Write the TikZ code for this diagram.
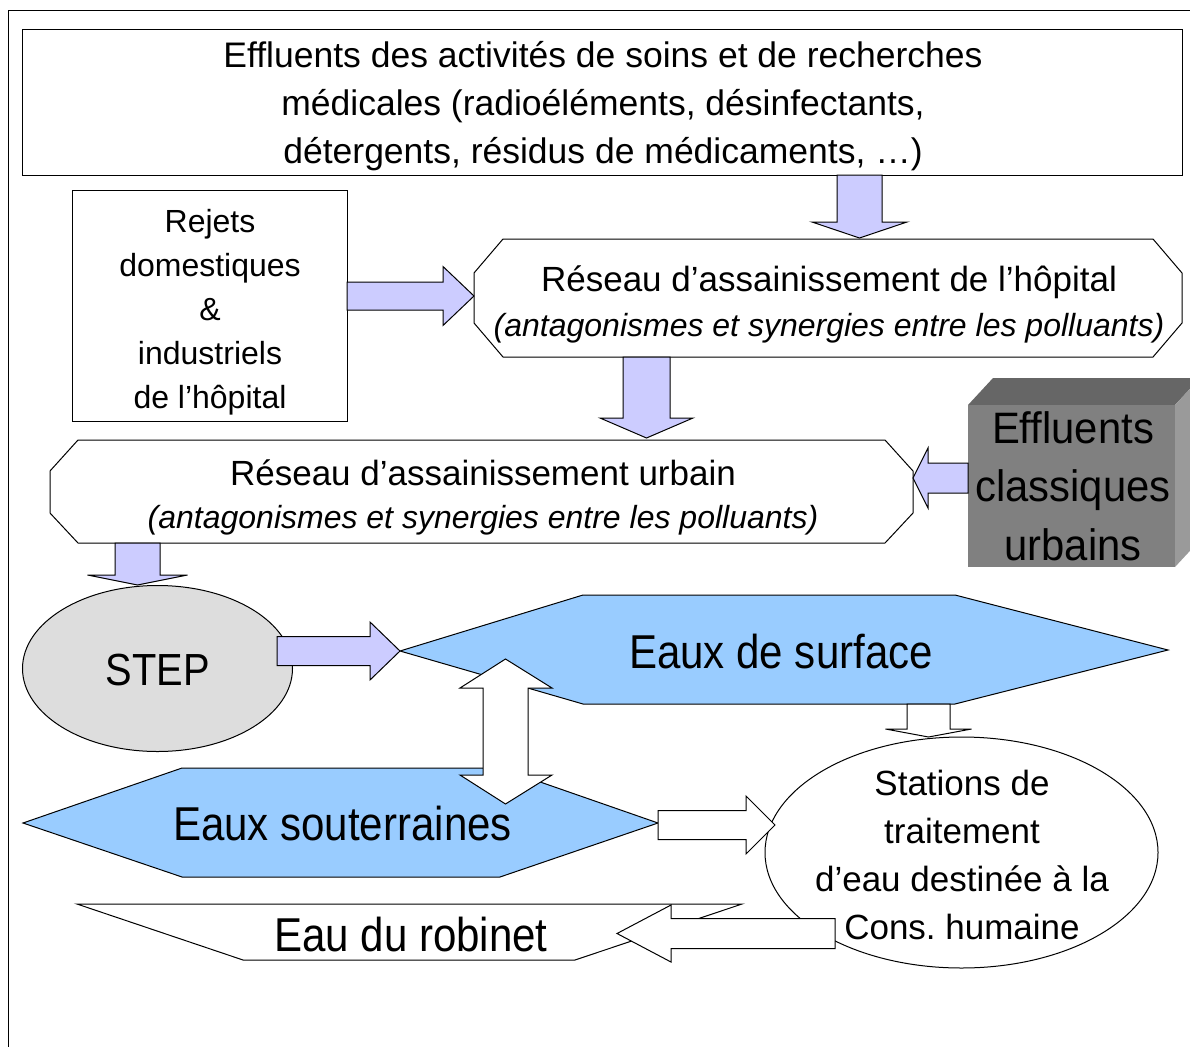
\documentclass[tikz,border=0pt]{standalone}
\usepackage{fontspec}
\setmainfont{Liberation Sans}
\newfontfamily\narrowfont[FakeStretch=0.885]{Liberation Sans}
\newfontfamily\midfont[FakeStretch=0.95]{Liberation Sans}
\usetikzlibrary{shapes.geometric}
\definecolor{arrowpurple}{HTML}{CCCCFF}
\definecolor{waterblue}{HTML}{99CCFF}
\definecolor{stepgray}{HTML}{DDDDDD}
\definecolor{cubefront}{HTML}{808080}
\definecolor{cubetop}{HTML}{666666}
\definecolor{cubeside}{HTML}{9A9A9A}
\frenchspacing
\newcommand{\mytab}[1]{\begin{tabular}[t]{@{}c@{}}#1\end{tabular}}
% horizontal block arrow: style, tail x, head base x, tip x, centre y, shaft half, head half
\newcommand{\harrow}[7]{\draw[#1] (#2,#5-#6) -- (#3,#5-#6) -- (#3,#5-#7) -- (#4,#5) -- (#3,#5+#7) -- (#3,#5+#6) -- (#2,#5+#6) -- cycle;}
% vertical block arrow: style, tail y, head base y, tip y, centre x, shaft half, head half
\newcommand{\varrow}[7]{\draw[#1] (#5-#6,#2) -- (#5-#6,#3) -- (#5-#7,#3) -- (#5,#4) -- (#5+#7,#3) -- (#5+#6,#3) -- (#5+#6,#2) -- cycle;}
\begin{document}
\begin{tikzpicture}[x=1pt,y=-1pt,line width=1pt,line join=miter,
  box/.style={draw=black,fill=white,inner sep=0pt},
  parr/.style={draw=black,fill=arrowpurple},
  warr/.style={draw=black,fill=white},
  water/.style={draw=black,fill=waterblue},
  txt/.style={inner sep=0pt,anchor=base},
  bigtxt/.style={txt,font=\narrowfont\fontsize{47.5}{55}\selectfont}]
\useasboundingbox (0,0) rectangle (1190,1046);
\clip (0,0) rectangle (1190,1046);
% outer frame
\draw (8,1060) -- (8,11) -- (1200,11);

% top box
\node[box,minimum width=1160pt,minimum height=146pt,anchor=north west] (top) at (22,29) {};
\node[txt] (toptext) at (603,68) {\fontsize{35.5}{48}\selectfont\mytab{Effluents des activités de soins et de recherches\\ médicales (radioéléments, désinfectants,\\ détergents, résidus de médicaments, …)}};

% rejets box
\node[box,minimum width=275pt,minimum height=231pt,anchor=north west] (rejets) at (72,190) {};
\node[txt] (rejetstext) at (210,232) {\fontsize{32}{44}\selectfont\mytab{Rejets\\ domestiques\\ \&\\ industriels\\ de l’hôpital}};

% hospital network
\draw[box] (503,239) -- (1153,239) -- (1182,273) -- (1182,323) -- (1153,357) -- (503,357) -- (474,323) -- (474,273) -- cycle;
\node[txt] (hosp) at (829,291) {\fontsize{35}{45}\selectfont\mytab{Réseau d’assainissement de l’hôpital\\ \fontsize{32}{45}\selectfont\itshape (antagonismes et synergies entre les polluants)}};

% urban network
\draw[box] (78,440) -- (885,440) -- (913,471) -- (913,513) -- (885,543) -- (78,543) -- (50,513) -- (50,471) -- cycle;
\node[txt] (urban) at (483,485) {\fontsize{35}{43}\selectfont\mytab{Réseau d’assainissement urbain\\ \fontsize{32}{43}\selectfont\itshape (antagonismes et synergies entre les polluants)}};

% classic urban effluents (3D box)
\fill[cubetop] (968,405) -- (993,378) -- (1200,378) -- (1175,405) -- cycle;
\fill[cubeside] (1175,405) -- (1200,378) -- (1200,540) -- (1175,567) -- cycle;
\fill[cubefront] (968,405) rectangle (1175,567);
\node[txt] (classiques) at (1073,443) {\midfont\fontsize{44}{58.5}\selectfont\mytab{Effluents\\ classiques\\ urbains}};

% STEP
\node[ellipse,draw=black,fill=stepgray,minimum width=270pt,minimum height=166pt,inner sep=0pt] (step) at (157.5,668.5) {};
\node[bigtxt,font=\narrowfont\fontsize{45}{55}\selectfont] (steptext) at (158,685) {STEP};

% surface waters
\draw[water] (400,651) -- (583,595) -- (955,595) -- (1168,650) -- (955,704) -- (583,704) -- cycle;
\node[bigtxt] (surface) at (781,668) {Eaux de surface};

% ground waters
\draw[water] (23,823) -- (182,768) -- (500,768) -- (658,823) -- (500,877) -- (182,877) -- cycle;
\node[bigtxt] (souterraines) at (342.5,840) {Eaux souterraines};

% tap water
\draw[box] (77,904) -- (742,904) -- (575,960) -- (243,960) -- cycle;
\node[bigtxt] (robinet) at (411,951) {Eau du robinet};

% treatment stations
\node[ellipse,draw=black,fill=white,minimum width=393pt,minimum height=231pt,inner sep=0pt] (stations) at (961.5,852.5) {};
\node[txt] (stationstext) at (962,795) {\fontsize{35}{48}\selectfont\mytab{Stations de\\ traitement\\ d’eau destinée à la\\ Cons. humaine}};

% block arrows
\varrow{parr}{175}{222}{238}{859.5}{22.5}{47.5}
\harrow{parr}{347}{443}{474}{296}{14}{29.5}
\varrow{parr}{357}{418}{438}{646.5}{23.5}{46.5}
\harrow{parr}{968}{928}{913}{478}{15}{30}
\varrow{parr}{543}{575}{585}{137.5}{22.5}{50}
\harrow{parr}{277}{370}{400}{651}{14.5}{29}
\draw[warr] (483,688) -- (460,688) -- (505.5,659) -- (552,688) -- (528,688) -- (528,775) -- (552,775) -- (505.5,804) -- (460,775) -- (483,775) -- cycle;
\varrow{warr}{704}{729}{737}{928.5}{21.5}{43}
\harrow{warr}{658}{746}{775}{825}{14.5}{29}
\harrow{warr}{835}{671}{617}{933.5}{15}{28.5}
\end{tikzpicture}
\end{document}
